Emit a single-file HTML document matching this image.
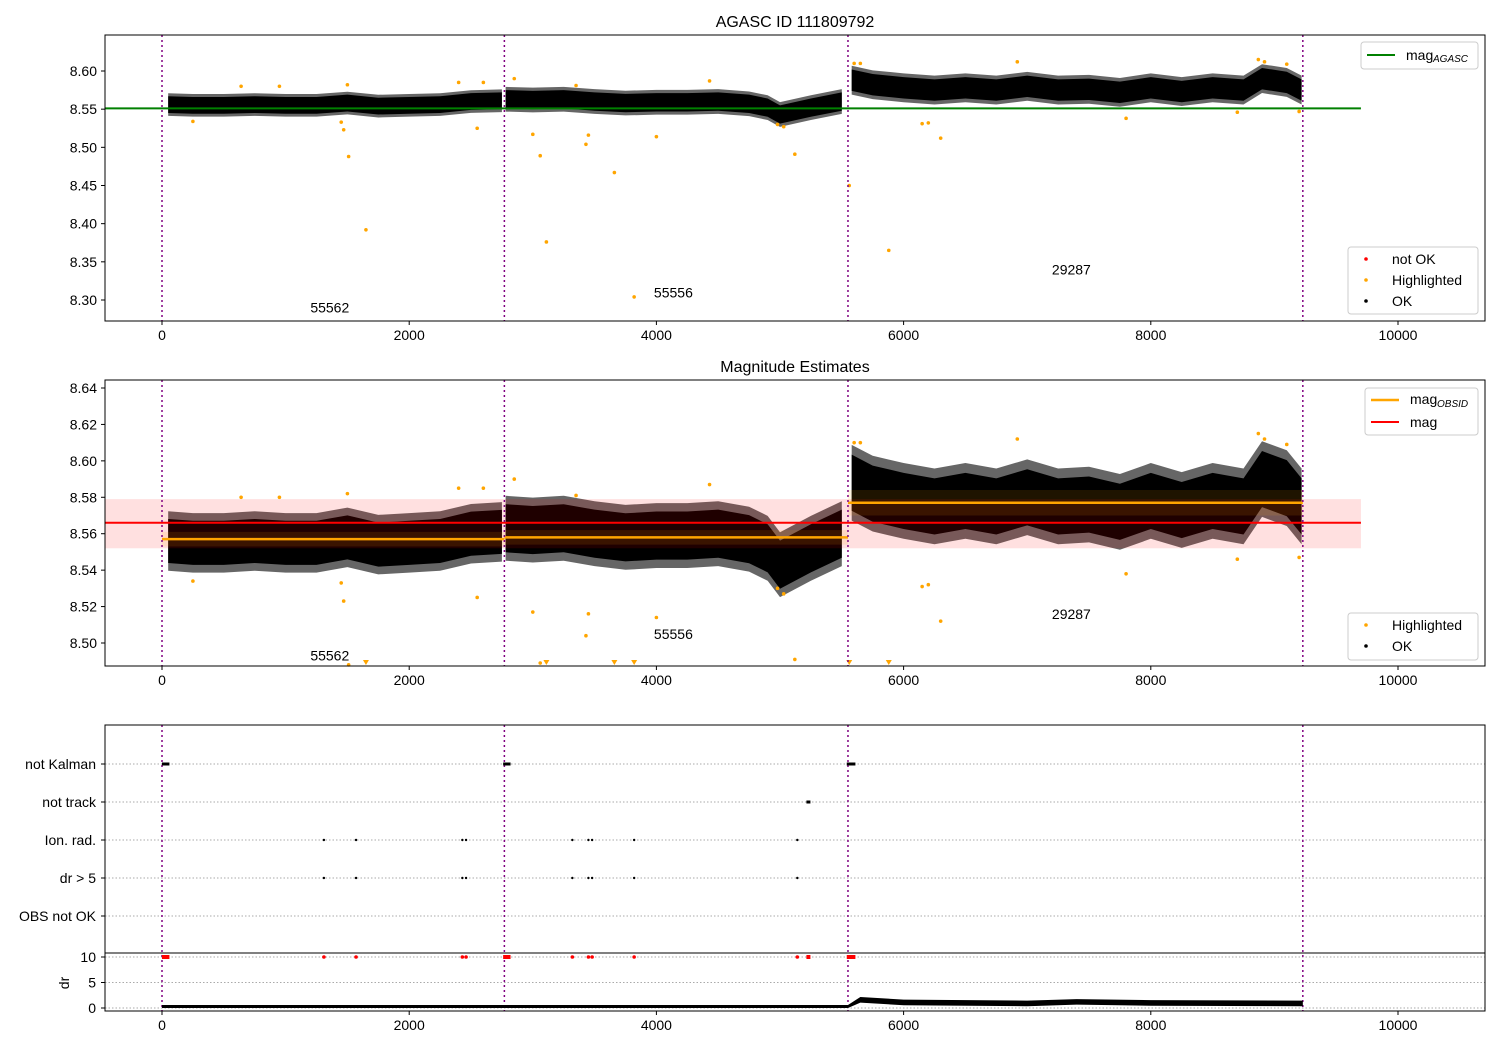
<!DOCTYPE html>
<html><head><meta charset="utf-8"><style>
body{margin:0;background:#fff}
svg text{font-family:"Liberation Sans","DejaVu Sans",sans-serif;font-size:14px;fill:#000}
</style></head><body>
<svg id="c" width="1500" height="1050" xmlns="http://www.w3.org/2000/svg"></svg>
<script>
const boundaries=[0,2770,5550,9230];
const segMeans=[
 [[50,8.556],[250,8.555],[500,8.555],[750,8.556],[1000,8.555],[1250,8.555],[1500,8.558],[1750,8.554],[2000,8.555],[2250,8.556],[2500,8.560],[2750,8.561]],
 [[2780,8.563],[3000,8.562],[3250,8.563],[3500,8.560],[3750,8.558],[4000,8.559],[4250,8.559],[4500,8.560],[4750,8.557],[4900,8.552],[5000,8.543],[5250,8.552],[5500,8.560]],
 [[5580,8.588],[5750,8.582],[6000,8.578],[6250,8.575],[6500,8.578],[6750,8.575],[7000,8.580],[7250,8.575],[7500,8.576],[7750,8.572],[8000,8.578],[8250,8.573],[8500,8.578],[8750,8.575],[8900,8.590],[9100,8.585],[9220,8.575]]];
const segSpread=[0.011,0.012,0.014];
const obsidMeans=[8.557,8.558,8.577];
const obsidErr=[0.004,0.004,0.007];
const obsids=["55562","55556","29287"];
const agascMag=8.551, magMean=8.566, magLo=8.552, magHi=8.579;
const highlighted=[[1450,8.533],[1470,8.523],[1510,8.488],[1650,8.392],[2550,8.525],[3000,8.517],[3060,8.489],[3110,8.376],[3430,8.504],[3450,8.516],[3660,8.467],[3820,8.304],[4000,8.514],[5120,8.491],[5560,8.450],[6150,8.531],[6200,8.532],[6300,8.512],[5880,8.365],[7800,8.538],[9200,8.547],[8700,8.546],[1500,8.582],[2400,8.585],[2600,8.585],[2850,8.590],[3350,8.581],[4430,8.587],[5600,8.61],[5650,8.61],[6920,8.612],[8870,8.615],[8920,8.612],[9100,8.609],[250,8.534],[5030,8.527],[4980,8.53],[950,8.58],[640,8.58]];
const flagCats=["not Kalman","not track","Ion. rad.","dr > 5","OBS not OK"];
const notKalman=[[0,60],[2760,2820],[5540,5610]];
const notTrack=[5230];
const ionRad=[1310,1570,2430,2460,3320,3450,3480,3820,5140];
const drMeans=[[0,0.3],[2770,0.3],[5550,0.3],[5650,1.6],[6000,1.1],[7000,0.9],[7400,1.2],[8000,1.0],[9230,0.9]];
const xTicks=[0,2000,4000,6000,8000,10000];
const y1Ticks=[8.30,8.35,8.40,8.45,8.50,8.55,8.60];
const y2Ticks=[8.50,8.52,8.54,8.56,8.58,8.60,8.62,8.64];
const drTicks=[0,5,10];

const svg=document.getElementById('c');const NS='http://www.w3.org/2000/svg';
function mk(t,a,txt){const e=document.createElementNS(NS,t);for(const k in a)e.setAttribute(k,a[k]);if(txt!==undefined)e.textContent=txt;svg.appendChild(e);return e;}
const sx=v=>162+v*0.1236;
const P1={t:35,b:321,y:v=>71+(8.60-v)*763.3,min:8.275};
const P2={t:380,b:666,y:v=>388+(8.64-v)*1821.4,min:8.4875};
const L=105,R=1485;
function clip(id,p){const d=mk('clipPath',{id});const r=document.createElementNS(NS,'rect');r.setAttribute('x',L);r.setAttribute('y',p.t);r.setAttribute('width',R-L);r.setAttribute('height',p.b-p.t);d.appendChild(r);}
clip('c1',P1);clip('c2',P2);
P1.id='c1';P2.id='c2';
function xAxis(b){xTicks.forEach(t=>{mk('line',{x1:sx(t),x2:sx(t),y1:b,y2:b+4,stroke:'#000'});const e=mk('text',{x:sx(t),y:b+19,'text-anchor':'middle'},String(t));});}
function vlines(t,b){boundaries.forEach(v=>{mk('line',{x1:sx(v),x2:sx(v),y1:t,y2:b,stroke:'#800080','stroke-width':1.5,'stroke-dasharray':'2,3'});});}
function bandPoly(p,s,sp,fill,op){let up=s.map(d=>sx(d[0])+','+p.y(d[1]+sp));let lo=s.slice().reverse().map(d=>sx(d[0])+','+p.y(d[1]-sp));return mk('polygon',{points:up.concat(lo).join(' '),fill:fill,opacity:op,'clip-path':'url(#'+p.id+')'});}
function band(p,sc){segMeans.forEach((s,i)=>{bandPoly(p,s,segSpread[i]*sc*1.35,'#000',0.6);const e=bandPoly(p,s,segSpread[i]*sc,'#000',1);});}
function hl(p){highlighted.forEach(d=>{if(d[1]<p.min){const x=sx(d[0]),y=p.b-3;mk('polygon',{points:`${x-3},${y-3} ${x+3},${y-3} ${x},${y+2}`,fill:'orange'});}else{const e=mk('circle',{cx:sx(d[0]),cy:p.y(d[1]),r:1.8,fill:'orange'});}});}
function yTicks(p,ticks,dec){ticks.forEach(t=>{const y=p.y(t);mk('line',{x1:L-4,x2:L,y1:y,y2:y,stroke:'#000'});mk('text',{x:L-8,y:y+5,'text-anchor':'end'},t.toFixed(dec));});}
function labels(p,vals){const xs=[1200,3980,7200];vals.forEach((v,i)=>{const e=mk('text',{x:sx(xs[i]),y:p.y(v)+5},obsids[i]);});}

// Panel 1
mk('text',{x:795,y:27,'text-anchor':'middle',style:'font-size:16px'},'AGASC ID 111809792');
yTicks(P1,y1Ticks,2);xAxis(P1.b);
band(P1,1.0);
mk('line',{x1:L,x2:sx(9700),y1:P1.y(agascMag),y2:P1.y(agascMag),stroke:'green','stroke-width':2});
hl(P1);vlines(P1.t,P1.b);labels(P1,[8.29,8.31,8.34]);
mk('rect',{x:L,y:P1.t,width:R-L,height:P1.b-P1.t,fill:'none',stroke:'#000'});
mk('rect',{x:1361,y:42,width:117,height:27,fill:'#fff',stroke:'#ccc',rx:3});
mk('line',{x1:1367,x2:1395,y1:55,y2:55,stroke:'green','stroke-width':2});
mk('text',{x:1406,y:60},'mag');mk('text',{x:1433,y:62,style:'font-size:10px;font-style:italic'},'AGASC');
mk('rect',{x:1348,y:247,width:130,height:67,fill:'#fff',stroke:'#ccc',rx:3});
[['red','not OK'],['orange','Highlighted'],['#000','OK']].forEach((d,i)=>{mk('circle',{cx:1366,cy:259+i*21,r:1.8,fill:d[0]});mk('text',{x:1392,y:264+i*21},d[1]);});

// Panel 2
mk('text',{x:795,y:372,'text-anchor':'middle',style:'font-size:16px'},'Magnitude Estimates');
yTicks(P2,y2Ticks,2);xAxis(P2.b);
band(P2,1.1);
mk('rect',{x:L,y:P2.y(magHi),width:sx(9700)-L,height:P2.y(magLo)-P2.y(magHi),fill:'rgba(255,0,0,0.12)'});
obsidMeans.forEach((m,i)=>{mk('rect',{x:sx(boundaries[i]),y:P2.y(m+obsidErr[i]),width:sx(boundaries[i+1])-sx(boundaries[i]),height:P2.y(m-obsidErr[i])-P2.y(m+obsidErr[i]),fill:'rgba(255,165,0,0.12)'});
const e=mk('line',{x1:sx(boundaries[i]),x2:sx(boundaries[i+1]),y1:P2.y(m),y2:P2.y(m),stroke:'orange','stroke-width':2.5});});
mk('line',{x1:L,x2:sx(9700),y1:P2.y(magMean),y2:P2.y(magMean),stroke:'red','stroke-width':2});
hl(P2);vlines(P2.t,P2.b);labels(P2,[8.493,8.505,8.516]);
mk('rect',{x:L,y:P2.t,width:R-L,height:P2.b-P2.t,fill:'none',stroke:'#000'});
mk('rect',{x:1365,y:388,width:113,height:47,fill:'#fff',stroke:'#ccc',rx:3});
mk('line',{x1:1371,x2:1399,y1:400,y2:400,stroke:'orange','stroke-width':2.5});mk('text',{x:1410,y:404},'mag');mk('text',{x:1437,y:407,style:'font-size:10px;font-style:italic'},'OBSID');
mk('line',{x1:1371,x2:1399,y1:422,y2:422,stroke:'red','stroke-width':2});mk('text',{x:1410,y:427},'mag');
mk('rect',{x:1348,y:613,width:130,height:47,fill:'#fff',stroke:'#ccc',rx:3});
[['orange','Highlighted'],['#000','OK']].forEach((d,i)=>{mk('circle',{cx:1366,cy:625+i*21,r:1.8,fill:d[0]});mk('text',{x:1392,y:630+i*21},d[1]);});

// Panel 3
const cy=i=>764+i*38;
flagCats.forEach((c,i)=>{mk('line',{x1:L,x2:R,y1:cy(i),y2:cy(i),stroke:'#aaa','stroke-dasharray':'1.5,2'});mk('line',{x1:L-4,x2:L,y1:cy(i),y2:cy(i),stroke:'#000'});mk('text',{x:L-9,y:cy(i)+5,'text-anchor':'end'},c);});
const dy=v=>1008-v*5.1;
drTicks.forEach(t=>{mk('line',{x1:L,x2:R,y1:dy(t),y2:dy(t),stroke:'#aaa','stroke-dasharray':'1.5,2'});mk('line',{x1:L-4,x2:L,y1:dy(t),y2:dy(t),stroke:'#000'});mk('text',{x:L-9,y:dy(t)+5,'text-anchor':'end'},String(t));});
mk('text',{x:0,y:0,transform:`translate(69,983) rotate(-90)`,'text-anchor':'middle'},'dr');
vlines(725,1011);
notKalman.forEach(r=>{mk('rect',{x:sx(r[0]),y:cy(0)-1.5,width:(r[1]-r[0])*0.1236,height:3,fill:'#000'});mk('rect',{x:sx(r[0]),y:dy(10)-2,width:(r[1]-r[0])*0.1236,height:4,fill:'red'});});
notTrack.forEach(v=>{mk('rect',{x:sx(v)-2,y:cy(1)-1.5,width:4,height:3,fill:'#000'});mk('rect',{x:sx(v)-2,y:dy(10)-2,width:4,height:4,fill:'red'});});
ionRad.forEach(v=>{[2,3].forEach(i=>mk('circle',{cx:sx(v),cy:cy(i),r:1.2,fill:'#000'}));mk('circle',{cx:sx(v),cy:dy(10),r:1.8,fill:'red'});});
const drSp=d=>d[1]>0.5?0.55:0.3;
let up=drMeans.map(d=>sx(d[0])+','+dy(d[1]+drSp(d))),lo=drMeans.slice().reverse().map(d=>sx(d[0])+','+dy(Math.max(-0.2,d[1]-drSp(d))));
mk('polygon',{points:up.concat(lo).join(' '),fill:'#000'});
mk('rect',{x:L,y:725,width:R-L,height:228,fill:'none',stroke:'#000'});
mk('rect',{x:L,y:953,width:R-L,height:58,fill:'none',stroke:'#000'});
xAxis(1011);
</script>
</body></html>
